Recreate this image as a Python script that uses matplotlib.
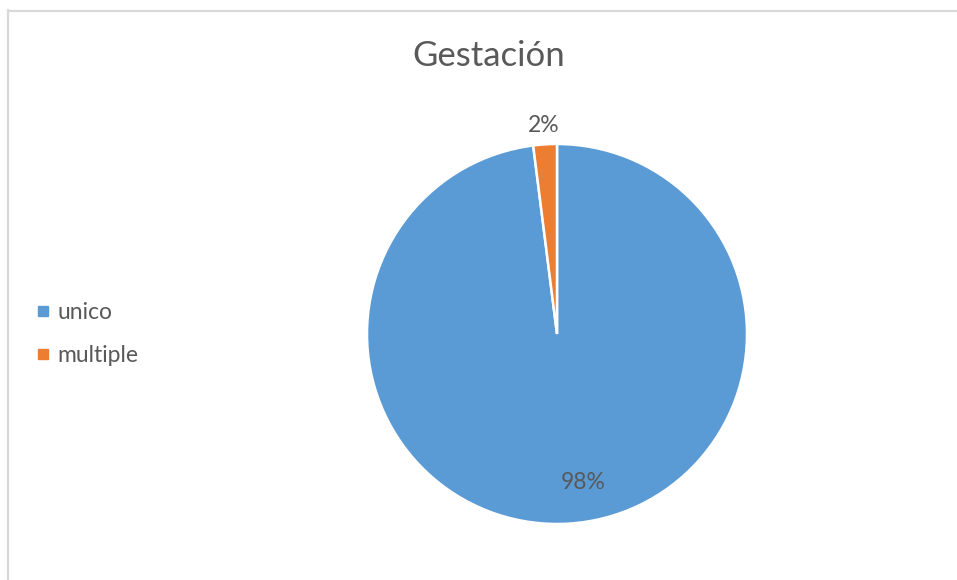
import matplotlib
matplotlib.use("Agg")
import matplotlib.pyplot as plt
from matplotlib.lines import Line2D

categories = ["unico", "multiple"]
values = [98, 2]
colors = ["#5B9BD5", "#ED7D31"]
title = "Gestación"
text_color = "#595959"

plt.rcParams['font.family'] = ['Lato', 'DejaVu Sans']

W, H = 957, 580
fig = plt.figure(figsize=(W/100, H/100), dpi=100)
fig.patch.set_facecolor("white")

# chart border (left and top visible)
fig.add_artist(Line2D([8/W, 8/W], [0, 1 - 10/H], transform=fig.transFigure, color="#D9D9D9", lw=1.6))
fig.add_artist(Line2D([8/W, 1], [1 - 11/H, 1 - 11/H], transform=fig.transFigure, color="#D9D9D9", lw=1.6))

ax = fig.add_axes([367/W, (H-524)/H, 380/W, 380/H])
wedges, texts, autotexts = ax.pie(values, colors=colors, startangle=90, counterclock=False,
                                  wedgeprops=dict(edgecolor="white", linewidth=1.8),
                                  autopct=lambda p: f"{p:.0f}%", pctdistance=0.79,
                                  textprops=dict(color=text_color, fontsize=16.5))
ax.set_xlim(-1, 1); ax.set_ylim(-1, 1)
ax.set_aspect("equal")
# data labels: 98% inside near bottom, 2% outside end
autotexts[0].set_position((0.14, -0.78))
x, y = autotexts[1].get_position()
autotexts[1].set_position((x / 0.79 * 1.1, y / 0.79 * 1.1))

fig.text(489/W, 1 - 56/H, title, ha="center", va="center", fontsize=25, color=text_color)

handles = [Line2D([], [], marker="s", linestyle="", markersize=6.5, markerfacecolor=c, markeredgecolor=c)
           for c in colors]
leg = fig.legend(handles, categories, loc="center left", bbox_to_anchor=(28/W, 1 - 334/H),
                 frameon=False, fontsize=16.5, handlelength=0.5, handletextpad=0.4,
                 labelspacing=1.0, borderaxespad=0)
for t in leg.get_texts():
    t.set_color(text_color)

fig.savefig("out.png", dpi=100)
